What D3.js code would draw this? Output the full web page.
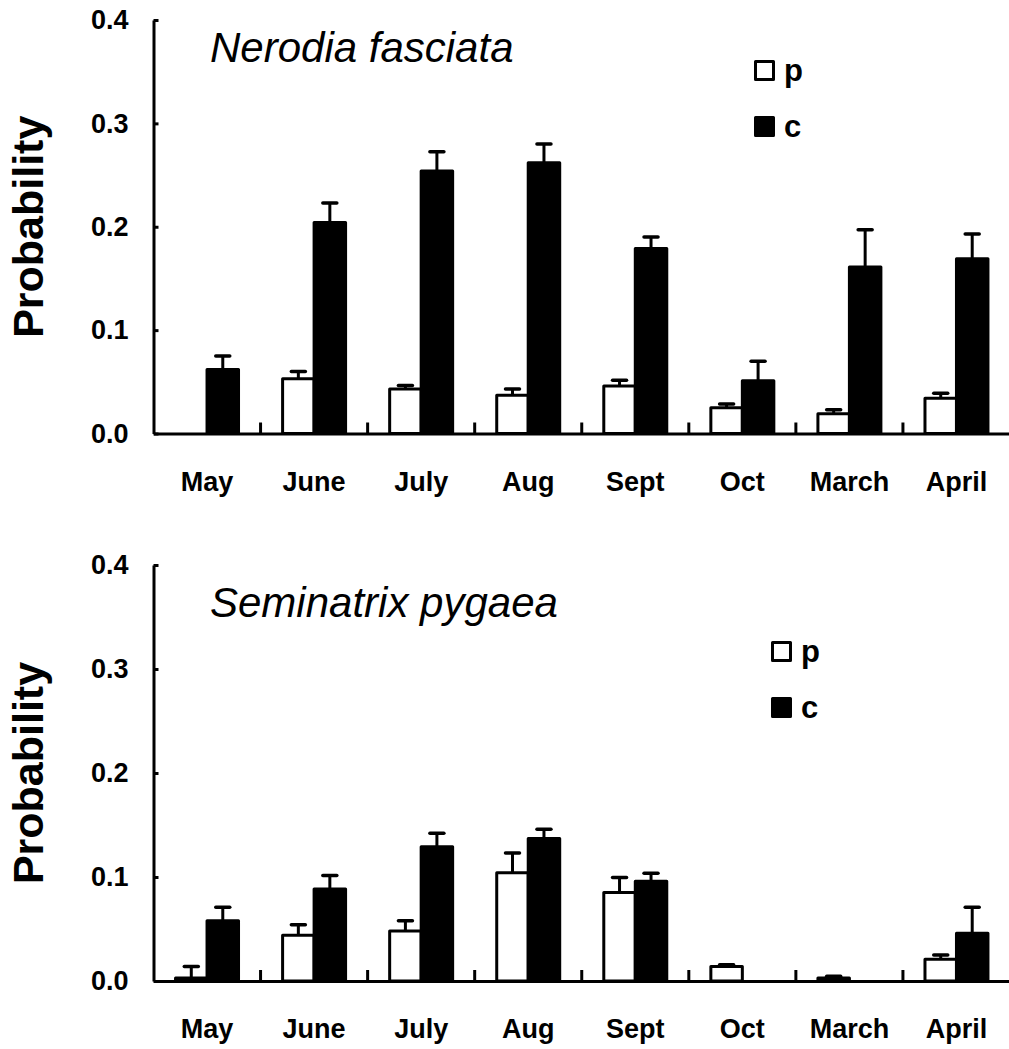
<!DOCTYPE html>
<html>
<head>
<meta charset="utf-8">
<script src="https://cdn.jsdelivr.net/npm/d3@7"></script>
<style>
    body { margin: 0; background: #fff; }
    svg { display: block; font-family: "Liberation Sans", Arial, sans-serif; }
</style>
</head>
<body>
<div id="chart"></div>
<script>
// months on the x axis
const months = ['May', 'June', 'July', 'Aug', 'Sept', 'Oct', 'March', 'April'];
const yTicks = [0, 0.1, 0.2, 0.3, 0.4];
const seriesKeys = ['p', 'c'];

// Nerodia fasciata (top panel)
const nerodiaP = [0, 0.053, 0.043, 0.037, 0.046, 0.025, 0.019, 0.034];
const nerodiaPErr = [0, 0.007, 0.0035, 0.006, 0.0055, 0.0035, 0.004, 0.005];
const nerodiaC = [0.062, 0.204, 0.254, 0.262, 0.179, 0.051, 0.161, 0.169];
const nerodiaCErr = [0.013, 0.019, 0.0185, 0.018, 0.011, 0.019, 0.036, 0.024];

// Seminatrix pygaea (bottom panel)
const seminatrixP = [0.003, 0.044, 0.048, 0.104, 0.085, 0.014, 0.003, 0.021];
const seminatrixPErr = [0.011, 0.010, 0.010, 0.019, 0.0145, 0.0016, 0.0015, 0.004];
const seminatrixC = [0.058, 0.0885, 0.129, 0.137, 0.096, 0, 0, 0.046];
const seminatrixCErr = [0.013, 0.013, 0.013, 0.009, 0.0075, 0, 0, 0.025];

const width = 1009, height = 1049;
const left = 153.5, right = 1010;

const svg = d3.select('#chart').append('svg')
    .attr('width', width)
    .attr('height', height);

function drawPanel(cfg) {
    const g = svg.append('g');

    const x = d3.scaleBand()
        .domain(months)
        .range([left, right]);

    const xs = d3.scaleBand()
        .domain(seriesKeys)
        .range([0, x.bandwidth()])
        .paddingOuter(0.7);

    const y = d3.scaleLinear()
        .domain([0, 0.4])
        .range([cfg.bottom, cfg.top]);

    const rows = months.map((m, i) => ({
        month: m,
        p: cfg.p[i], pErr: cfg.pErr[i],
        c: cfg.c[i], cErr: cfg.cErr[i]
    }));

    // bars + error bars
    seriesKeys.forEach(key => {
        const data = rows.filter(d => d[key] > 0);
        const bx = d => x(d.month) + xs(key);

        g.append('g')
            .selectAll('line.err')
            .data(data.filter(d => d[key + 'Err'] > 0))
            .enter()
            .append('line')
            .attr('x1', d => bx(d) + xs.bandwidth() / 2)
            .attr('x2', d => bx(d) + xs.bandwidth() / 2)
            .attr('y1', d => y(d[key]))
            .attr('y2', d => y(d[key] + d[key + 'Err']))
            .attr('stroke', '#000')
            .attr('stroke-width', 3);

        g.append('g')
            .selectAll('line.cap')
            .data(data.filter(d => d[key + 'Err'] > 0))
            .enter()
            .append('line')
            .attr('x1', d => bx(d) + xs.bandwidth() / 2 - 7)
            .attr('x2', d => bx(d) + xs.bandwidth() / 2 + 7)
            .attr('y1', d => y(d[key] + d[key + 'Err']))
            .attr('y2', d => y(d[key] + d[key + 'Err']))
            .attr('stroke', '#000')
            .attr('stroke-width', 3.5)
            .attr('stroke-linecap', 'round');

        g.append('g')
            .selectAll('rect')
            .data(data)
            .enter()
            .append('rect')
            .attr('x', d => bx(d))
            .attr('y', d => y(d[key]))
            .attr('width', xs.bandwidth())
            .attr('height', d => y(0) - y(d[key]))
            .attr('fill', key === 'p' ? '#fff' : '#000')
            .attr('stroke', '#000')
            .attr('stroke-width', 3)
            .attr('stroke-linejoin', 'round');
    });

    // y axis, ticks pointing inward
    const yAxis = g.append('g')
        .attr('transform', `translate(${left},0)`)
        .call(d3.axisLeft(y)
            .tickValues(yTicks)
            .tickFormat(d3.format('.1f'))
            .tickSize(-5)
            .tickSizeOuter(0)
            .tickPadding(25));
    yAxis.select('.domain').attr('stroke-width', 3);
    yAxis.selectAll('.tick line').attr('stroke-width', 3);
    yAxis.selectAll('.tick text')
        .attr('font-size', '27px')
        .attr('font-weight', 'bold')
        .attr('font-family', '"Liberation Sans", Arial, sans-serif')
        .attr('fill', '#000');

    // x axis, labels only
    const xAxis = g.append('g')
        .attr('transform', `translate(0,${cfg.bottom})`)
        .call(d3.axisBottom(x).tickSize(0).tickPadding(38));
    xAxis.select('.domain').attr('stroke-width', 3);
    xAxis.selectAll('.tick text')
        .attr('font-size', '27px')
        .attr('font-weight', 'bold')
        .attr('font-family', '"Liberation Sans", Arial, sans-serif')
        .attr('fill', '#000');

    // category separators on the x axis
    g.append('g')
        .selectAll('line')
        .data(months.slice(1))
        .enter()
        .append('line')
        .attr('x1', d => x(d))
        .attr('x2', d => x(d))
        .attr('y1', cfg.bottom)
        .attr('y2', cfg.bottom - 11)
        .attr('stroke', '#000')
        .attr('stroke-width', 3);

    // y axis title
    g.append('text')
        .attr('transform', `translate(43,${(cfg.top + cfg.bottom) / 2}) rotate(-90)`)
        .attr('text-anchor', 'middle')
        .attr('font-size', '43px')
        .attr('font-weight', 'bold')
        .text('Probability');

    // species name
    g.append('text')
        .attr('x', 210)
        .attr('y', cfg.titleY)
        .attr('font-size', '42px')
        .attr('font-style', 'italic')
        .text(cfg.title);

    // legend
    const legend = g.append('g')
        .attr('transform', `translate(${cfg.legendX},${cfg.legendY})`);
    seriesKeys.forEach((key, i) => {
        legend.append('rect')
            .attr('x', 1.5)
            .attr('y', i * 56 + 1.5)
            .attr('width', 18)
            .attr('height', 18)
            .attr('fill', key === 'p' ? '#fff' : '#000')
            .attr('stroke', '#000')
            .attr('stroke-width', 3)
            .attr('stroke-linejoin', 'round');
        legend.append('text')
            .attr('x', 30)
            .attr('y', i * 56 + 21)
            .attr('font-size', '31px')
            .attr('font-weight', 'bold')
            .text(key);
    });
}

drawPanel({
    title: 'Nerodia fasciata',
    top: 20, bottom: 433.5, titleY: 62,
    legendX: 754, legendY: 60,
    p: nerodiaP, pErr: nerodiaPErr, c: nerodiaC, cErr: nerodiaCErr
});

drawPanel({
    title: 'Seminatrix pygaea',
    top: 565, bottom: 981, titleY: 617,
    legendX: 771, legendY: 641,
    p: seminatrixP, pErr: seminatrixPErr, c: seminatrixC, cErr: seminatrixCErr
});
</script>
</body>
</html>
